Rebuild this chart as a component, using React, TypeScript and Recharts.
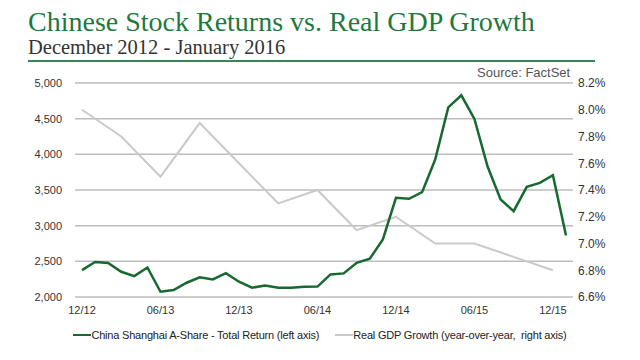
import React from "react";
import {
  LineChart,
  Line,
  XAxis,
  YAxis,
  CartesianGrid,
} from "recharts";

// monthly, Dec 2012 .. Jan 2016
const months = [
  "12/12", "01/13", "02/13", "03/13", "04/13", "05/13", "06/13", "07/13", "08/13", "09/13", "10/13", "11/13",
  "12/13", "01/14", "02/14", "03/14", "04/14", "05/14", "06/14", "07/14", "08/14", "09/14", "10/14", "11/14",
  "12/14", "01/15", "02/15", "03/15", "04/15", "05/15", "06/15", "07/15", "08/15", "09/15", "10/15", "11/15",
  "12/15", "01/16",
];

const shanghai = [
  2377, 2490, 2478, 2354, 2293, 2414, 2074, 2097, 2200, 2275, 2247, 2335,
  2214, 2130, 2162, 2130, 2130, 2144, 2146, 2317, 2331, 2480, 2536, 2807,
  3390, 3376, 3469, 3927, 4659, 4827, 4496, 3833, 3367, 3203, 3544, 3600,
  3707, 2863,
];

// quarterly GDP growth, placed on the quarter-end months
const gdpMonths = ["12/12", "03/13", "06/13", "09/13", "12/13", "03/14", "06/14", "09/14", "12/14", "03/15", "06/15", "09/15", "12/15"];
const gdp = [8.0, 7.8, 7.5, 7.9, 7.6, 7.3, 7.4, 7.1, 7.2, 7.0, 7.0, 6.9, 6.8];

const leftTicks = [2000, 2500, 3000, 3500, 4000, 4500, 5000];
const rightTicks = [6.6, 6.8, 7.0, 7.2, 7.4, 7.6, 7.8, 8.0, 8.2];

const GREEN = "#17692f";
const GREY = "#c9c9c9";
const SANS = "Liberation Sans, Arial, sans-serif";

const data = months.map((m, i) => {
  const g = gdpMonths.indexOf(m);
  return { month: m, shanghai: shanghai[i], gdp: g >= 0 ? gdp[g] : null };
});

const legendItems = [
  { label: "China Shanghai A-Share - Total Return (left axis)", color: GREEN, w: 2.5 },
  { label: "Real GDP Growth (year-over-year,  right axis)", color: GREY, w: 2 },
];

function ChartLegend() {
  return (
    <div style={{ position: "absolute", left: 0, top: 329, width: 640, display: "flex", justifyContent: "center", fontFamily: SANS, fontSize: 11, color: "#222", letterSpacing: -0.2, whiteSpace: "pre" }}>
      {legendItems.map((it, i) => (
        <div key={i} style={{ display: "flex", alignItems: "center", marginLeft: i ? 16 : 0 }}>
          <span style={{ display: "inline-block", width: 18, height: it.w, background: it.color }} />
          <span>{it.label}</span>
        </div>
      ))}
    </div>
  );
}

export default function App() {
  const tickStyle = { fontFamily: SANS, fontSize: 11, fill: "#333" };
  const rightTickStyle = { fontFamily: SANS, fontSize: 12, fill: "#333" };
  return (
    <div style={{ position: "absolute", left: 0, top: 0, width: 640, height: 360, background: "#fff", overflow: "hidden" }}>
      <div style={{ position: "absolute", left: 28, top: 6, fontFamily: "Liberation Serif, serif", fontSize: 28, color: "#1d7a3d", whiteSpace: "nowrap" }}>
        Chinese Stock Returns vs. Real GDP Growth
      </div>
      <div style={{ position: "absolute", left: 28, top: 36, fontFamily: "Liberation Serif, serif", fontSize: 20.5, color: "#333", whiteSpace: "nowrap" }}>
        December 2012 - January 2016
      </div>
      <div style={{ position: "absolute", left: 28, top: 60, width: 567, height: 2, background: "#2e8b57" }} />
      <div style={{ position: "absolute", left: 477, top: 65, fontFamily: SANS, fontSize: 13, color: "#555" }}>
        Source: FactSet
      </div>
      <LineChart
        width={640}
        height={360}
        data={data}
        margin={{ top: 83, right: 0, bottom: 33, left: 0 }}
        style={{ position: "absolute", left: 0, top: 0 }}
      >
        <CartesianGrid yAxisId="left" vertical={false} stroke="#bdbdbd" strokeWidth={1.5} />
        <XAxis
          dataKey="month"
          interval={5}
          height={30}
          padding={{ left: 7, right: 7 }}
          axisLine={false}
          tickLine={false}
          tickSize={0}
          tickMargin={9}
          tick={tickStyle}
        />
        <YAxis
          yAxisId="left"
          width={75}
          domain={[2000, 5000]}
          ticks={leftTicks}
          axisLine={false}
          tickLine={false}
          tickSize={0}
          tickMargin={13}
          tick={tickStyle}
          tickFormatter={(v: number) => v.toLocaleString("en-US")}
        />
        <YAxis
          yAxisId="right"
          orientation="right"
          width={67}
          domain={[6.6, 8.2]}
          ticks={rightTicks}
          axisLine={false}
          tickLine={false}
          tickSize={0}
          tickMargin={5}
          tick={rightTickStyle}
          tickFormatter={(v: number) => `${v.toFixed(1)}%`}
        />
        <Line
          yAxisId="right"
          dataKey="gdp"
          stroke={GREY}
          strokeWidth={2}
          dot={false}
          connectNulls
          isAnimationActive={false}
        />
        <Line
          yAxisId="left"
          dataKey="shanghai"
          stroke={GREEN}
          strokeWidth={2.5}
          dot={false}
          isAnimationActive={false}
        />
      </LineChart>
      <ChartLegend />
    </div>
  );
}
